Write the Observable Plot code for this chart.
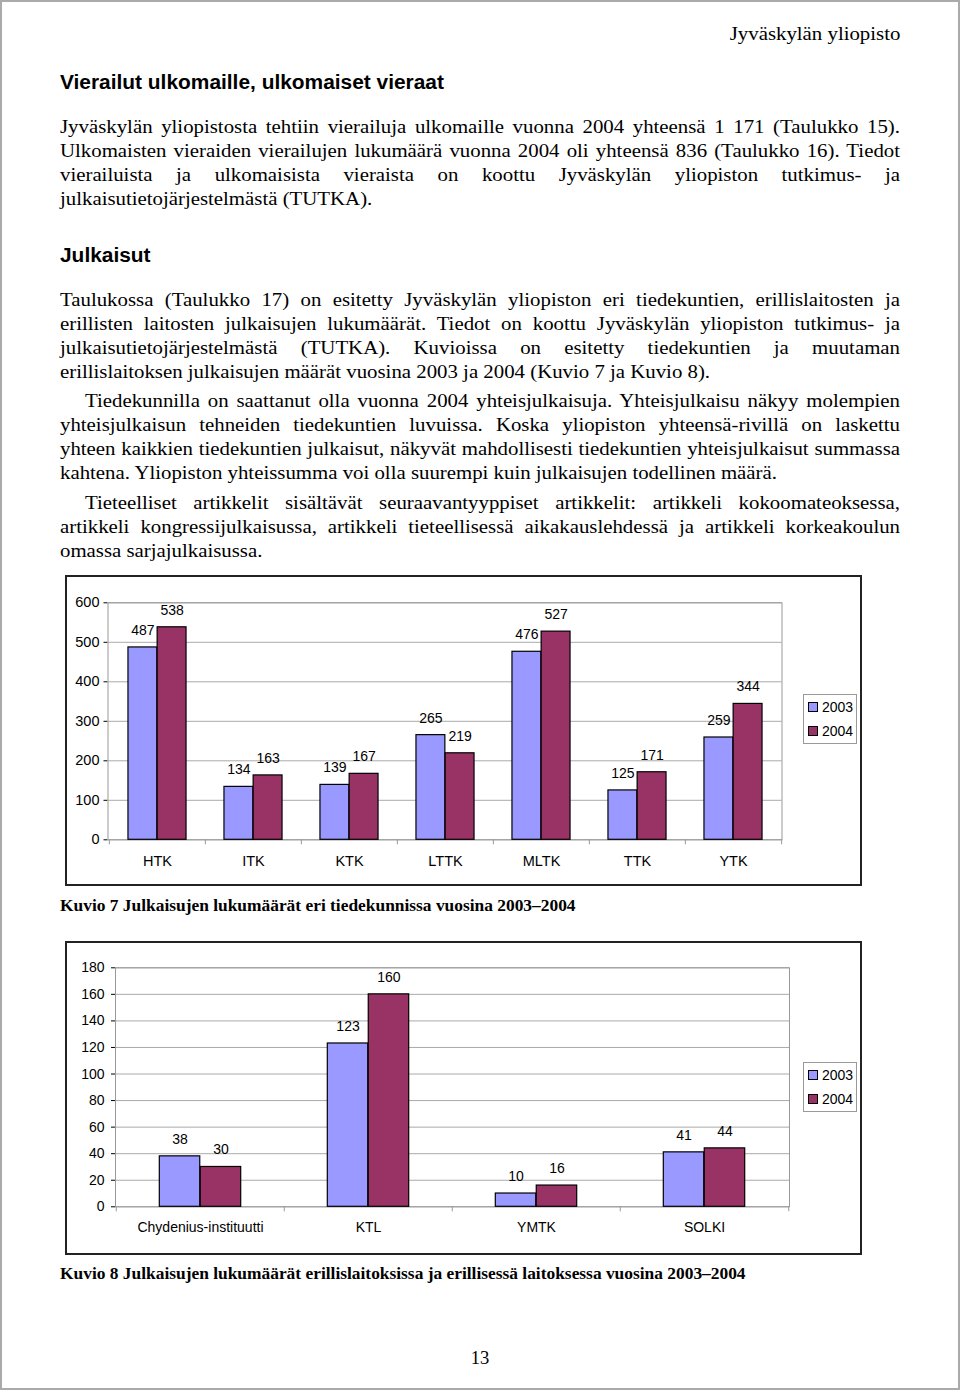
<!DOCTYPE html>
<html><head><meta charset="utf-8">
<script src="https://cdn.jsdelivr.net/npm/d3@7"></script>
<script src="https://cdn.jsdelivr.net/npm/@observablehq/plot@0.6"></script>
<style>
body{margin:0;background:#fff;}
.page{position:relative;width:960px;height:1390px;overflow:hidden;background:#fff;color:#000;}
.pborder{position:absolute;left:0;top:0;width:960px;height:1390px;box-sizing:border-box;border:2px solid #aaa;}
.txt{position:absolute;left:60px;width:750px;transform:scaleX(1.12);transform-origin:0 0;font:18.6px/24px "Liberation Serif","Times New Roman",serif;}
.txt div{text-align:justify;text-align-last:justify;}
.txt div.last{text-align-last:left;}
.txt div.ind{text-indent:22.3px;}
.hdr{position:absolute;right:60px;top:22px;font:18.6px/24px "Liberation Serif",serif;transform:scaleX(1.12);transform-origin:100% 0;white-space:nowrap;}
.h{position:absolute;left:60px;font:bold 20.9px/24px "Liberation Sans",Arial,sans-serif;white-space:nowrap;}
.cap{position:absolute;left:60px;font:bold 17.4px/20px "Liberation Serif",serif;white-space:nowrap;}
.chart{position:absolute;left:65px;width:797px;box-sizing:border-box;border:2px solid #222;}
.chart svg{display:block;}
.legend{position:absolute;left:736px;width:54px;height:50px;box-sizing:border-box;border:1px solid #999;background:#fff;font:14px "Liberation Sans",Arial,sans-serif;}
.legend .it{position:absolute;left:4px;height:16px;line-height:16px;white-space:nowrap;}
.legend .sw{display:inline-block;width:8px;height:8px;border:1px solid #000;margin-right:4px;vertical-align:0px;}
.pnum{position:absolute;left:0;width:960px;text-align:center;top:1346px;font:18.6px/24px "Liberation Serif",serif;}
</style></head>
<body><div class="page">
<div class="pborder"></div>
<div class="hdr">Jyväskylän yliopisto</div>
<div class="h" style="top:70px">Vierailut ulkomaille, ulkomaiset vieraat</div>
<div class="txt" style="top:115px">
<div>Jyväskylän yliopistosta tehtiin vierailuja ulkomaille vuonna 2004 yhteensä 1 171 (Taulukko 15).</div>
<div>Ulkomaisten vieraiden vierailujen lukumäärä vuonna 2004 oli yhteensä 836 (Taulukko 16). Tiedot</div>
<div>vierailuista ja ulkomaisista vieraista on koottu Jyväskylän yliopiston tutkimus- ja</div>
<div class="last">julkaisutietojärjestelmästä (TUTKA).</div>
</div>
<div class="h" style="top:243px">Julkaisut</div>
<div class="txt" style="top:288px">
<div>Taulukossa (Taulukko 17) on esitetty Jyväskylän yliopiston eri tiedekuntien, erillislaitosten ja</div>
<div>erillisten laitosten julkaisujen lukumäärät. Tiedot on koottu Jyväskylän yliopiston tutkimus- ja</div>
<div>julkaisutietojärjestelmästä (TUTKA). Kuvioissa on esitetty tiedekuntien ja muutaman</div>
<div class="last">erillislaitoksen julkaisujen määrät vuosina 2003 ja 2004 (Kuvio 7 ja Kuvio 8).</div>
</div>
<div class="txt" style="top:389px">
<div class="ind">Tiedekunnilla on saattanut olla vuonna 2004 yhteisjulkaisuja. Yhteisjulkaisu näkyy molempien</div>
<div>yhteisjulkaisun tehneiden tiedekuntien luvuissa. Koska yliopiston yhteensä-rivillä on laskettu</div>
<div>yhteen kaikkien tiedekuntien julkaisut, näkyvät mahdollisesti tiedekuntien yhteisjulkaisut summassa</div>
<div class="last">kahtena. Yliopiston yhteissumma voi olla suurempi kuin julkaisujen todellinen määrä.</div>
</div>
<div class="txt" style="top:491px">
<div class="ind">Tieteelliset artikkelit sisältävät seuraavantyyppiset artikkelit: artikkeli kokoomateoksessa,</div>
<div>artikkeli kongressijulkaisussa, artikkeli tieteellisessä aikakauslehdessä ja artikkeli korkeakoulun</div>
<div class="last">omassa sarjajulkaisussa.</div>
</div>

<div class="chart" id="c1" style="top:575px;height:311px;"></div>
<div class="cap" style="top:895px">Kuvio 7 Julkaisujen lukumäärät eri tiedekunnissa vuosina 2003–2004</div>
<div class="chart" id="c2" style="top:941px;height:314px;"></div>
<div class="cap" style="top:1263px">Kuvio 8 Julkaisujen lukumäärät erillislaitoksissa ja erillisessä laitoksessa vuosina 2003–2004</div>
<div class="pnum">13</div>
</div>
<script>
// Chart 1 data (Kuvio 7)
const faculties = ["HTK", "ITK", "KTK", "LTTK", "MLTK", "TTK", "YTK"];
const fac2003 = [487, 134, 139, 265, 476, 125, 259];
const fac2004 = [538, 163, 167, 219, 527, 171, 344];
const yTicks1 = [0, 100, 200, 300, 400, 500, 600];
// Chart 2 data (Kuvio 8)
const institutes = ["Chydenius-instituutti", "KTL", "YMTK", "SOLKI"];
const inst2003 = [38, 123, 10, 41];
const inst2004 = [30, 160, 16, 44];
const yTicks2 = [0, 20, 40, 60, 80, 100, 120, 140, 160, 180];
const years = ["2003", "2004"];
const colors = ["#9999ff", "#993366"];

function makeChart(el, cats, a, b, ticks, opt) {
  const rows = cats.map((c, i) => ({cat: c, v2003: a[i], v2004: b[i]}));
  const bw = (opt.W - opt.ML - opt.MR) / cats.length;
  const bar = bw * opt.barFrac;
  const half = bw / 2;
  const chart = Plot.plot({
    width: opt.W, height: opt.H,
    marginLeft: opt.ML, marginRight: opt.MR, marginTop: opt.MT, marginBottom: opt.MB,
    style: {fontFamily: "Liberation Sans, Arial, sans-serif", fontSize: opt.fs + "px", color: "#000", background: "#fff", overflow: "visible"},
    x: {domain: cats, padding: 0, tickSize: 0, tickPadding: opt.xPad, label: null},
    y: {domain: [0, ticks[ticks.length - 1]], ticks: ticks, tickSize: 4, tickPadding: opt.yPad, label: null, tickFormat: d => String(d)},
    marks: [
      Plot.ruleY(ticks, {y: d => d, stroke: "#aaa", strokeWidth: 1}),
      Plot.frame({stroke: "#999"}),
      Plot.ruleX(cats, {x: d => d, dx: -half, y1: 0, y2: 0, insetBottom: -5, stroke: "#999"}),
      Plot.ruleX(cats.slice(-1), {x: d => d, dx: half, y1: 0, y2: 0, insetBottom: -5, stroke: "#999"}),
      Plot.barY(rows, {x: "cat", y: "v2003", fill: colors[0], stroke: "#000", strokeWidth: 1.2, insetLeft: half - bar, insetRight: half}),
      Plot.barY(rows, {x: "cat", y: "v2004", fill: colors[1], stroke: "#000", strokeWidth: 1.2, insetLeft: half, insetRight: half - bar}),
      Plot.text(rows, {x: "cat", y: "v2003", text: d => String(d.v2003), dx: -bar / 2, dy: -17, fill: "#000", fontSize: 14}),
      Plot.text(rows, {x: "cat", y: "v2004", text: d => String(d.v2004), dx: bar / 2, dy: -17, fill: "#000", fontSize: 14})
    ]
  });
  el.appendChild(chart);
  const lg = document.createElement("div");
  lg.className = "legend";
  lg.style.top = opt.legTop + "px";
  years.forEach((y, i) => {
    const it = document.createElement("div");
    it.className = "it";
    it.style.top = (4 + i * 24) + "px";
    const sw = document.createElement("span");
    sw.className = "sw";
    sw.style.background = colors[i];
    it.appendChild(sw);
    it.appendChild(document.createTextNode(y));
    lg.appendChild(it);
  });
  el.appendChild(lg);
}

makeChart(document.getElementById("c1"), faculties, fac2003, fac2004, yTicks1,
  {W: 793, H: 307, ML: 40.5, MR: 78.5, MT: 25.3, MB: 44.7, barFrac: 0.303, xPad: 16, yPad: 4.5, fs: 14.5, legTop: 117});
makeChart(document.getElementById("c2"), institutes, inst2003, inst2004, yTicks2,
  {W: 793, H: 310, ML: 48, MR: 71, MT: 24.3, MB: 46.7, barFrac: 0.243, xPad: 15.5, yPad: 7, fs: 14, legTop: 119});
</script>
</body></html>
